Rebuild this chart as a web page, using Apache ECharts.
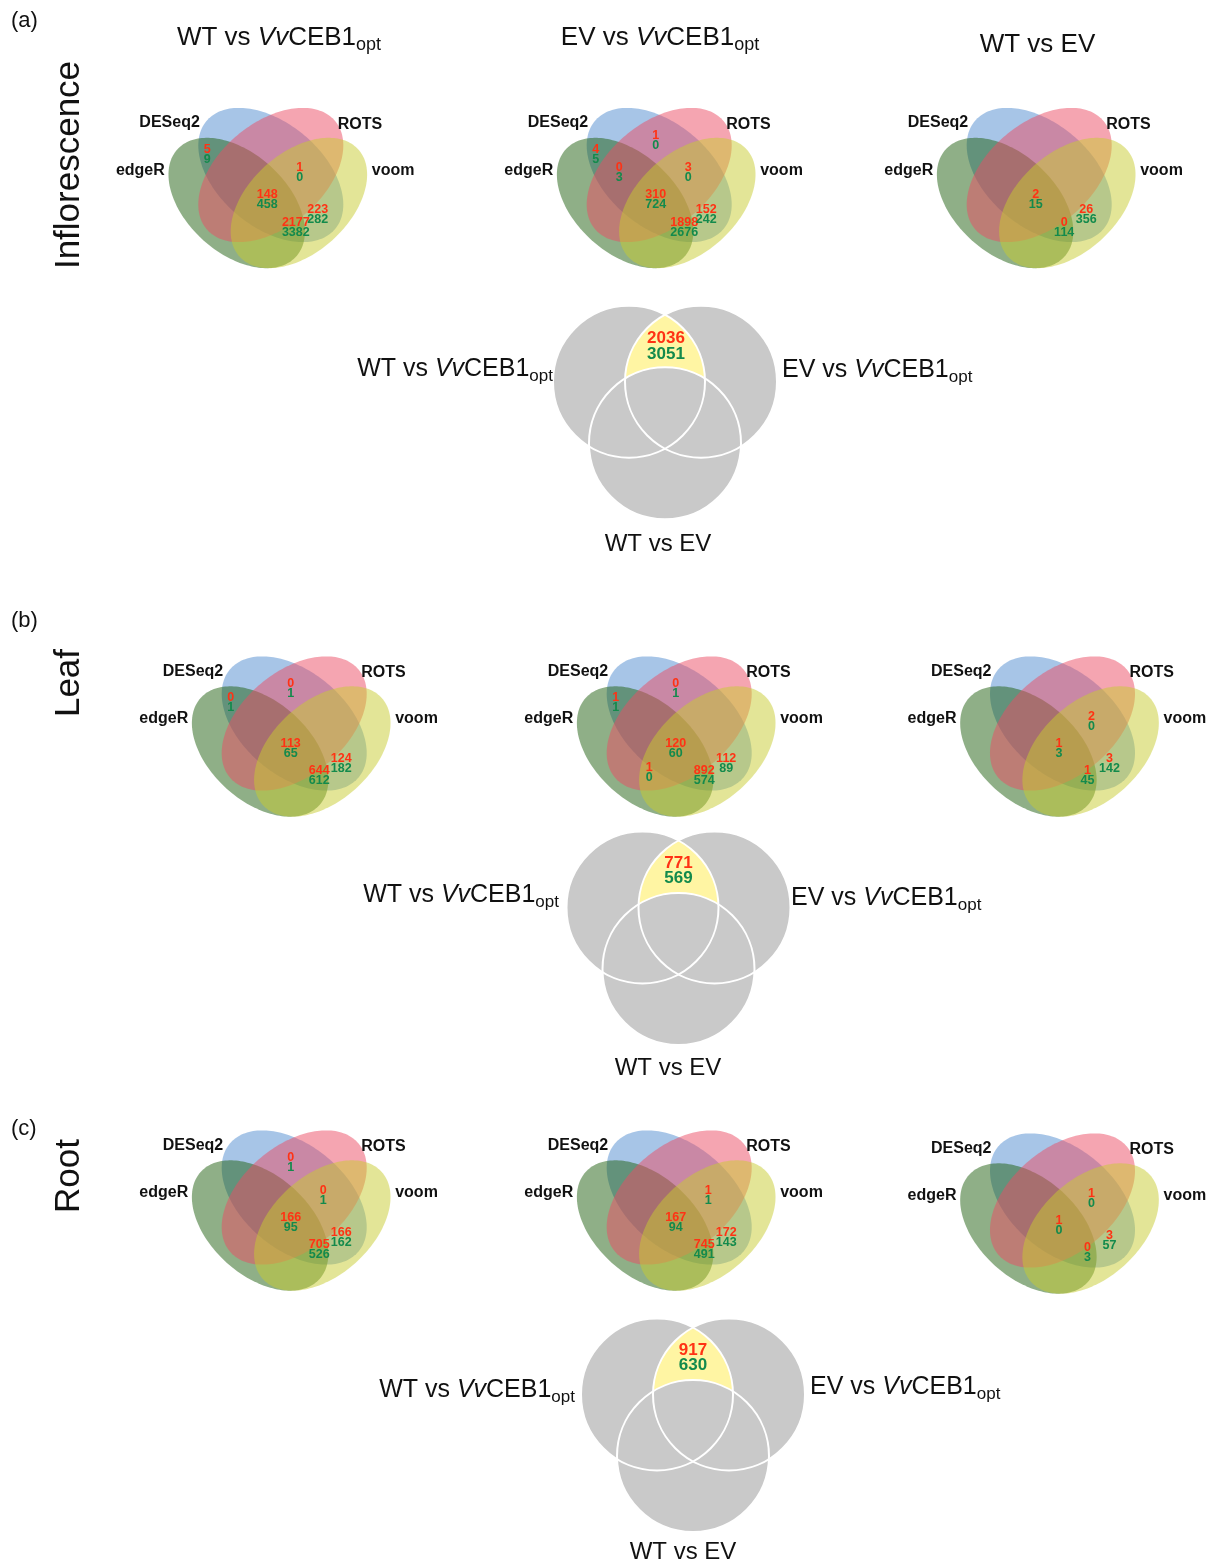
<!DOCTYPE html>
<html>
<head>
<meta charset="utf-8">
<script src="https://cdn.jsdelivr.net/npm/echarts@6/dist/echarts.min.js"></script>
<style>
html,body{margin:0;padding:0;background:#ffffff;}
#chart{width:1216px;height:1566px;}
</style>
</head>
<body>
<div id="chart"></div>
<script>
// ======================= DATA =======================
const panelTags = ['(a)', '(b)', '(c)'];
const tissues = ['Inflorescence', 'Leaf', 'Root'];
const methods = ['DESeq2', 'ROTS', 'edgeR', 'voom'];
// comparison names as text runs: n = normal, i = italic, s = subscript
const cmpWTvsCEB1 = [['WT vs ', 'n'], ['Vv', 'i'], ['CEB1', 'n'], ['opt', 's']];
const cmpEVvsCEB1 = [['EV vs ', 'n'], ['Vv', 'i'], ['CEB1', 'n'], ['opt', 's']];
const cmpWTvsEV = [['WT vs EV', 'n']];
const comparisons = [cmpWTvsCEB1, cmpEVvsCEB1, cmpWTvsEV];

// Region codes: B = DESeq2, R = ROTS, G = edgeR, Y = voom, ALL = all four methods
// Each entry: [region, up-regulated count (red), down-regulated count (green)]
const inflorescenceWTvsCEB1 = [['BG', 5, 9], ['BRY', 1, 0], ['ALL', 148, 458], ['BGY', 2177, 3382], ['BY', 223, 282]];
const inflorescenceEVvsCEB1 = [['BG', 4, 5], ['BR', 1, 0], ['BGR', 0, 3], ['BRY', 3, 0], ['ALL', 310, 724], ['BGY', 1898, 2676], ['BY', 152, 242]];
const inflorescenceWTvsEV = [['ALL', 2, 15], ['BGY', 0, 114], ['BY', 26, 356]];
const leafWTvsCEB1 = [['BG', 0, 1], ['BR', 0, 1], ['ALL', 113, 65], ['BGY', 644, 612], ['BY', 124, 182]];
const leafEVvsCEB1 = [['BG', 1, 1], ['BR', 0, 1], ['ALL', 120, 60], ['GRY', 1, 0], ['BGY', 892, 574], ['BY', 112, 89]];
const leafWTvsEV = [['BRY', 2, 0], ['ALL', 1, 3], ['BGY', 1, 45], ['BY', 3, 142]];
const rootWTvsCEB1 = [['BR', 0, 1], ['BRY', 0, 1], ['ALL', 166, 95], ['BGY', 705, 526], ['BY', 166, 162]];
const rootEVvsCEB1 = [['BRY', 1, 1], ['ALL', 167, 94], ['BGY', 745, 491], ['BY', 172, 143]];
const rootWTvsEV = [['BRY', 1, 0], ['ALL', 1, 0], ['BGY', 0, 3], ['BY', 3, 57]];
const vennCounts = [
  [inflorescenceWTvsCEB1, inflorescenceEVvsCEB1, inflorescenceWTvsEV],
  [leafWTvsCEB1, leafEVvsCEB1, leafWTvsEV],
  [rootWTvsCEB1, rootEVvsCEB1, rootWTvsEV]
];
// genes shared by both WT vs VvCEB1opt and EV vs VvCEB1opt, not in WT vs EV
const sharedUp = [2036, 771, 917];
const sharedDown = [3051, 569, 630];

// ======================= LAYOUT / STYLE =======================
const W = 1216, H = 1566;
const FONT = "'Liberation Sans', Arial, Helvetica, sans-serif";
const RED = '#ff3214', GREEN = '#138a4c', INK = '#111111';
const vennCentre = [
  [[267.8, 171.5], [656.2, 171.5], [1036.2, 171.5]],
  [[291.2, 720], [676.2, 720], [1059.5, 720]],
  [[291.2, 1194], [676.2, 1194], [1059.5, 1197]]
];
const ellipseGeom = [
  { dx: 3, dy: 3.5, a: 84, b: 52, rot: 40, color: '#4f8bcf' },       // DESeq2
  { dx: 3, dy: 3.5, a: 84, b: 52, rot: -40, color: '#eb4b63' },      // ROTS
  { dx: -31.1, dy: 31.5, a: 80, b: 50, rot: 42, color: '#1f6010' },  // edgeR
  { dx: 31.1, dy: 31.5, a: 80, b: 50, rot: -42, color: '#c8cc30' }   // voom
];
const ellipseOpacity = 0.5;
const drawOrder = [0, 2, 1, 3];
const regionPos = {
  BG: [-60.5, -22], BR: [-0.5, -36], BGR: [-37, -3.5], BRY: [32, -3.5],
  ALL: [-0.5, 23.5], GRY: [-27, 48], BGY: [28, 51], BY: [50, 38.5]
};
const countGap = 10;
const methodLabelPos = [[-68, -48.5, 'right'], [70, -47, 'left'], [-103, -1, 'right'], [104, -1, 'left']];
const titlePos = [[279, 37.7], [660, 37.7], [1037.5, 44.5]];
const panelTagPos = [[11, 21], [11, 621], [11, 1129]];
const tissuePos = [[69, 165], [69, 683], [69, 1176]];
const triCentre = [[665, 381.7], [678.5, 907.5], [693, 1394.5]];
const triGeom = { dx: 36, dy: 61.5, r: 76 };
const triLeftLabel = [[553, 369], [559, 895], [575, 1390]];
const triRightLabel = [[782, 370], [791, 898], [810, 1387]];
const triBottomLabel = [[658, 544], [668, 1068], [683, 1552]];
const triCountPos = [[1, -43], [0, -44.5], [0, -44.5]];

// ======================= HELPERS =======================
const measureCtx = document.createElement('canvas').getContext('2d');
function runWidth(text, size, style, weight) {
  measureCtx.font = (style || 'normal') + ' ' + (weight || 'normal') + ' ' + size + 'px ' + FONT;
  return measureCtx.measureText(text).width;
}
function runsToElements(runs, x, y, align, size, subSize, subDy) {
  const widths = runs.map(r => runWidth(r[0], r[1] === 's' ? subSize : size, r[1] === 'i' ? 'italic' : 'normal'));
  const total = widths.reduce((s, w) => s + w, 0);
  let cx = align === 'center' ? x - total / 2 : (align === 'right' ? x - total : x);
  return runs.map((r, i) => {
    const el = {
      type: 'text',
      style: {
        text: r[0], x: cx, y: y + (r[1] === 's' ? subDy : 0), fill: INK,
        fontFamily: FONT, fontSize: r[1] === 's' ? subSize : size,
        fontStyle: r[1] === 'i' ? 'italic' : 'normal', fontWeight: 'normal',
        align: 'left', verticalAlign: 'middle'
      }
    };
    cx += widths[i];
    return el;
  });
}

// ======================= SERIES DATA =======================
const ellipseData = [];
const countData = [];
const methodLabelData = [];
for (let r = 0; r < 3; r++) {
  for (let c = 0; c < 3; c++) {
    const C = vennCentre[r][c];
    drawOrder.forEach(m => {
      const g = ellipseGeom[m];
      ellipseData.push([C[0] + g.dx, C[1] + g.dy, m]);
    });
    vennCounts[r][c].forEach(([region, up, down]) => {
      const p = regionPos[region];
      countData.push([C[0] + p[0], C[1] + p[1], up, down]);
    });
    methods.forEach((name, m) => {
      const p = methodLabelPos[m];
      methodLabelData.push([C[0] + p[0], C[1] + p[1], m]);
    });
  }
}
const triData = triCentre.map((v, r) => [v[0], v[1], r]);
const headerData = [];
comparisons.forEach((cmp, i) => headerData.push([titlePos[i][0], titlePos[i][1], 0, i]));
panelTags.forEach((t, i) => headerData.push([panelTagPos[i][0], panelTagPos[i][1], 1, i]));
tissues.forEach((t, i) => headerData.push([tissuePos[i][0], tissuePos[i][1], 2, i]));

// ======================= CHART =======================
const chart = echarts.init(document.getElementById('chart'), null, { renderer: 'canvas', width: W, height: H });

const option = {
  animation: false,
  backgroundColor: '#ffffff',
  grid: { left: 0, top: 0, width: W, height: H, show: false },
  xAxis: { type: 'value', min: 0, max: W, show: false },
  yAxis: { type: 'value', min: 0, max: H, inverse: true, show: false },
  series: [
    {
      type: 'custom', name: 'ellipses', coordinateSystem: 'cartesian2d', silent: true,
      data: ellipseData,
      renderItem: function (params, api) {
        const c = api.coord([api.value(0), api.value(1)]);
        const g = ellipseGeom[api.value(2)];
        const s = api.size([g.a, g.b]);
        const th = g.rot * Math.PI / 180;
        const pts = [];
        for (let k = 0; k < 180; k++) {
          const t = k / 180 * Math.PI * 2;
          pts.push([
            c[0] + s[0] * Math.cos(t) * Math.cos(th) - s[1] * Math.sin(t) * Math.sin(th),
            c[1] + s[0] * Math.cos(t) * Math.sin(th) + s[1] * Math.sin(t) * Math.cos(th)
          ]);
        }
        return { type: 'polygon', shape: { points: pts }, style: { fill: g.color, opacity: ellipseOpacity } };
      }
    },
    {
      type: 'custom', name: 'methodLabels', coordinateSystem: 'cartesian2d', silent: true,
      data: methodLabelData,
      renderItem: function (params, api) {
        const c = api.coord([api.value(0), api.value(1)]);
        const m = api.value(2);
        return {
          type: 'text',
          style: {
            text: methods[m], x: c[0], y: c[1], fill: INK, fontFamily: FONT,
            fontSize: 16, fontWeight: 'bold', align: methodLabelPos[m][2], verticalAlign: 'middle'
          }
        };
      }
    },
    {
      type: 'custom', name: 'counts', coordinateSystem: 'cartesian2d', silent: true,
      data: countData,
      renderItem: function (params, api) {
        const c = api.coord([api.value(0), api.value(1)]);
        const gap = api.size([0, countGap])[1];
        return {
          type: 'group',
          children: [
            { type: 'text', style: { text: String(api.value(2)), x: c[0], y: c[1], fill: RED, fontFamily: FONT, fontSize: 12.5, fontWeight: 'bold', align: 'center', verticalAlign: 'middle' } },
            { type: 'text', style: { text: String(api.value(3)), x: c[0], y: c[1] + gap, fill: GREEN, fontFamily: FONT, fontSize: 12.5, fontWeight: 'bold', align: 'center', verticalAlign: 'middle' } }
          ]
        };
      }
    },
    {
      type: 'custom', name: 'threeWay', coordinateSystem: 'cartesian2d', silent: true,
      data: triData,
      renderItem: function (params, api) {
        const r = api.value(2);
        const V = api.coord([api.value(0), api.value(1)]);
        const off = api.size([triGeom.dx, triGeom.dy]);
        const R = api.size([triGeom.r, 0])[0];
        const cL = [V[0] - off[0], V[1]], cR = [V[0] + off[0], V[1]], cB = [V[0], V[1] + off[1]];
        const disc = (c) => ({ type: 'circle', shape: { cx: c[0], cy: c[1], r: R }, style: { fill: '#c9c9c9' } });
        const ring = (c) => ({ type: 'circle', shape: { cx: c[0], cy: c[1], r: R }, style: { fill: 'none', stroke: '#ffffff', lineWidth: 2 } });
        const phi = Math.acos(off[0] / R);
        const lens = [];
        for (let k = 0; k <= 60; k++) { const t = -phi + 2 * phi * k / 60; lens.push([cL[0] + R * Math.cos(t), cL[1] + R * Math.sin(t)]); }
        for (let k = 0; k <= 60; k++) { const t = Math.PI - phi + 2 * phi * k / 60; lens.push([cR[0] + R * Math.cos(t), cR[1] + R * Math.sin(t)]); }
        const cp = triCountPos[r];
        const upPt = api.coord([api.value(0) + cp[0], api.value(1) + cp[1]]);
        const dnPt = api.coord([api.value(0) + cp[0], api.value(1) + cp[1] + 15.5]);
        const lp = api.coord(triLeftLabel[r]);
        const rp = api.coord(triRightLabel[r]);
        const bp = api.coord(triBottomLabel[r]);
        const children = [
          disc(cL), disc(cR),
          { type: 'polygon', shape: { points: lens }, style: { fill: '#fff5a3' } },
          disc(cB), ring(cL), ring(cR), ring(cB),
          { type: 'text', style: { text: String(sharedUp[r]), x: upPt[0], y: upPt[1], fill: RED, fontFamily: FONT, fontSize: 17, fontWeight: 'bold', align: 'center', verticalAlign: 'middle' } },
          { type: 'text', style: { text: String(sharedDown[r]), x: dnPt[0], y: dnPt[1], fill: GREEN, fontFamily: FONT, fontSize: 17, fontWeight: 'bold', align: 'center', verticalAlign: 'middle' } }
        ]
          .concat(runsToElements(comparisons[0], lp[0], lp[1], 'right', 25, 17, 7.5))
          .concat(runsToElements(comparisons[1], rp[0], rp[1], 'left', 25, 17, 7.5))
          .concat(runsToElements(comparisons[2], bp[0], bp[1], 'center', 24, 17, 7.5));
        return { type: 'group', children: children };
      }
    },
    {
      type: 'custom', name: 'headers', coordinateSystem: 'cartesian2d', silent: true,
      data: headerData,
      renderItem: function (params, api) {
        const p = api.coord([api.value(0), api.value(1)]);
        const kind = api.value(2), i = api.value(3);
        if (kind === 0) {
          return { type: 'group', children: runsToElements(comparisons[i], p[0], p[1], 'center', 26, 18, 7.8) };
        }
        if (kind === 1) {
          return { type: 'text', style: { text: panelTags[i], x: p[0], y: p[1], fill: INK, fontFamily: FONT, fontSize: 22, align: 'left', verticalAlign: 'middle' } };
        }
        return {
          type: 'text', x: p[0], y: p[1], rotation: Math.PI / 2,
          style: { text: tissues[i], x: 0, y: 0, fill: INK, fontFamily: FONT, fontSize: 35, align: 'center', verticalAlign: 'middle' }
        };
      }
    }
  ]
};
chart.setOption(option);
</script>
</body>
</html>
